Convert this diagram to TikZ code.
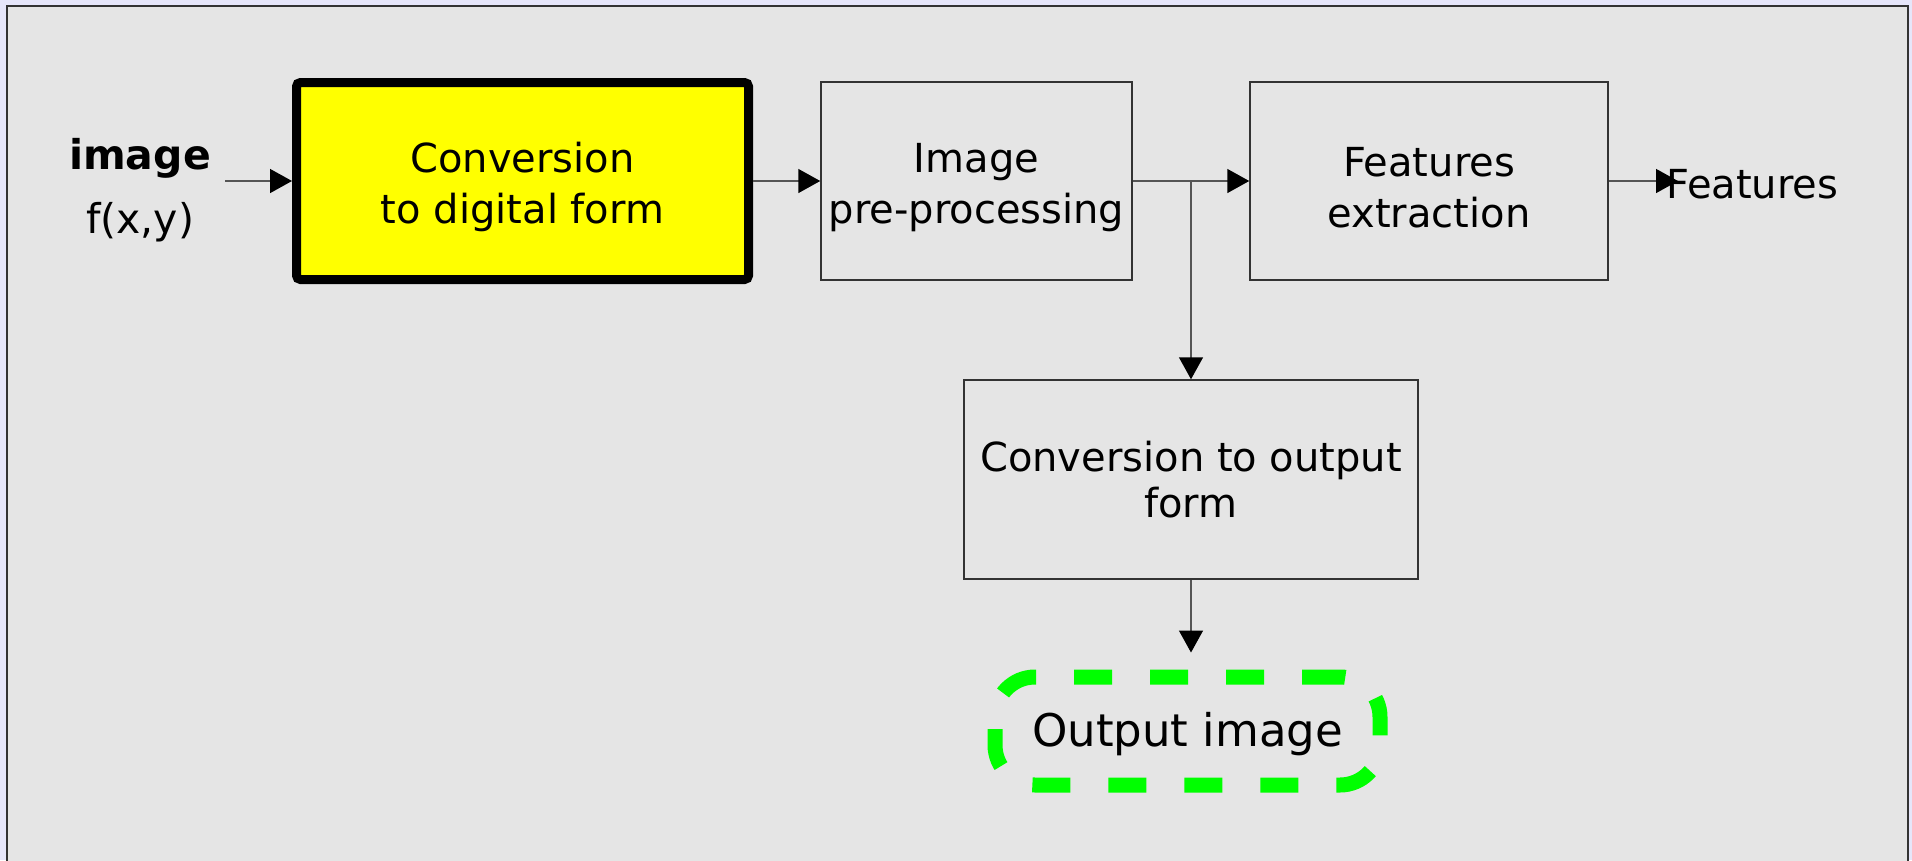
\documentclass[tikz,border=0pt]{standalone}
\usepackage{fontspec}
\setmainfont{DejaVu Sans}
\usetikzlibrary{arrows.meta}
\definecolor{outerbg}{HTML}{E6E6FA}
\definecolor{panel}{HTML}{E5E5E5}
\definecolor{limeg}{HTML}{00FF00}
\definecolor{yel}{HTML}{FFFF00}
\definecolor{edge}{HTML}{333333}
\definecolor{wire}{HTML}{555555}
\newcommand{\topstrut}{\rule{0pt}{42pt}}
\begin{document}
\begin{tikzpicture}[x=1pt,y=-1pt,
  blockbox/.style={draw=edge, line width=1.5pt, fill=panel, inner sep=0pt, align=center,
    font=\fontsize{40}{51}\selectfont},
  yellowbox/.style={blockbox, draw=black, fill=yel, line width=9pt, rounded corners=4pt},
  outbox/.style={draw=limeg, line width=15pt, rounded corners=40pt, inner sep=0pt,
    dash pattern=on 38pt off 38pt, font=\fontsize{45}{54}\selectfont},
  conn/.style={draw=wire, line width=1.5pt, -{Triangle[length=22pt,width=24pt,fill=black,color=black]}},
  lbl/.style={inner sep=0pt, align=center},
]
\useasboundingbox (0,0) rectangle (1912,860);
\fill[outerbg] (0,0) rectangle (1912,860);
\filldraw[fill=panel, draw=edge, line width=2pt] (7,6) rectangle (1908,880);

\node[yellowbox, minimum width=452pt, minimum height=197pt] (digit) at (522.5,181) {\topstrut Conversion\\to digital form};
\node[blockbox, minimum width=311pt, minimum height=198pt] (pre) at (976.5,181) {\topstrut Image\\pre-processing};
\node[blockbox, minimum width=358pt, minimum height=198pt] (feat) at (1429,181) {\topstrut Features\\extraction};
\node[blockbox, minimum width=454pt, minimum height=199pt, font=\fontsize{40}{46}\selectfont] (outconv) at (1191,479.5) {Conversion to output\\form};
\node[outbox, minimum width=385pt, minimum height=108pt] (outimg) at (1187.5,731) {\rule{0pt}{40pt}Output image};

\node[lbl, font=\fontsize{41}{64}\selectfont] (src) at (140,190) {\textbf{image}\\f(x,y)};
\node[lbl, anchor=west, font=\fontsize{40}{48}\selectfont] (featout) at (1666,184) {Features};
\coordinate (inS) at (225,181);

\draw[conn] (inS) -- (digit.west);
\draw[conn] (digit.east) -- (pre.west);
\draw[conn] (pre.east) -- (feat.west);
\draw[conn] (feat.east) -- ([xshift=12pt]feat.east -| featout.west);
\draw[conn] (pre.east -| outconv.north) -- (outconv.north);
\draw[conn, shorten >=17pt] (outconv.south) -- (outconv.south |- outimg.north);
\end{tikzpicture}
\end{document}
